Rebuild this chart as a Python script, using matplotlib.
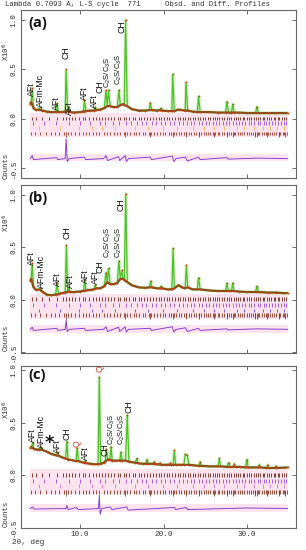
import matplotlib
matplotlib.use("Agg")  # headless
import matplotlib.pyplot as plt
import numpy as np
from matplotlib.ticker import FormatStrFormatter

# ---- data --------------------------------------------------------------
# background / peak-foot points shared by panels (a) and (b)
bg_x_ab = [4.0, 4.12, 4.4, 4.7, 5.05, 5.45, 6.0, 6.5, 7.05, 7.4,
           7.8, 8.2, 8.5, 8.8, 9.3, 10.0, 10.4, 10.7, 11.2, 11.65,
           11.95, 12.4, 12.9, 13.25, 13.6, 14.0, 14.45, 14.82, 15.15, 15.3,
           15.65, 16.2, 17.0, 17.8, 18.3, 18.6, 19.2, 19.55, 19.85, 20.5,
           21.0, 21.3, 21.8, 22.2, 22.6, 22.9, 23.5, 24.05, 24.4, 25.5,
           26.5, 27.45, 27.8, 28.15, 28.45, 29.0, 30.0, 31.05, 31.4, 32.5,
           33.5, 34.3, 34.9]
a_bg_y = [0.15, 0.17, 0.11, 0.09, 0.095, 0.085, 0.075, 0.07, 0.07, 0.07,
          0.07, 0.075, 0.08, 0.07, 0.065, 0.07, 0.075, 0.08, 0.085, 0.085,
          0.09, 0.095, 0.11, 0.13, 0.13, 0.12, 0.12, 0.14, 0.15, 0.14,
          0.13, 0.1, 0.085, 0.085, 0.09, 0.09, 0.085, 0.09, 0.085, 0.08,
          0.08, 0.08, 0.095, 0.09, 0.085, 0.085, 0.075, 0.07, 0.07, 0.07,
          0.065, 0.065, 0.065, 0.065, 0.065, 0.065, 0.06, 0.06, 0.06, 0.06,
          0.06, 0.06, 0.06]
a_pk_x = [4.25, 5.25, 7.2, 8.32, 8.65, 10.5, 11.8, 13.1, 13.4, 14.65,
          15.45, 18.4, 19.7, 21.1, 22.7, 24.2, 27.6, 28.3, 31.2]
a_pk_y = [0.31, 0.12, 0.16, 0.5, 0.12, 0.19, 0.12, 0.29, 0.29, 0.29,
          1.0, 0.165, 0.11, 0.45, 0.37, 0.23, 0.175, 0.15, 0.125]

b_bg_y = [0.18, 0.2, 0.12, 0.095, 0.1, 0.08, 0.05, 0.045, 0.05, 0.055,
          0.065, 0.07, 0.08, 0.075, 0.075, 0.08, 0.085, 0.09, 0.095, 0.1,
          0.11, 0.11, 0.13, 0.17, 0.15, 0.15, 0.16, 0.2, 0.2, 0.19,
          0.17, 0.14, 0.12, 0.115, 0.12, 0.12, 0.11, 0.11, 0.11, 0.1,
          0.1, 0.11, 0.14, 0.12, 0.11, 0.12, 0.1, 0.1, 0.1, 0.09,
          0.085, 0.085, 0.085, 0.085, 0.085, 0.08, 0.075, 0.075, 0.075, 0.07,
          0.07, 0.065, 0.065]
b_pk_x = [4.25, 5.25, 7.22, 8.35, 8.65, 10.55, 11.8, 13.1, 13.4, 14.65,
          15.0, 15.47, 18.45, 19.7, 21.15, 22.75, 24.2, 27.6, 28.3, 31.2]
b_pk_y = [0.35, 0.11, 0.16, 0.52, 0.12, 0.19, 0.14, 0.26, 0.3, 0.37,
          0.28, 1.01, 0.18, 0.13, 0.49, 0.33, 0.21, 0.16, 0.16, 0.13]

c_bg_x = [4.0, 4.15, 4.45, 4.8, 5.1, 5.5, 6.0, 6.5, 7.1, 7.45,
          8.0, 8.25, 8.55, 9.0, 9.5, 9.8, 10.2, 10.45, 10.75, 11.2,
          11.7, 12.15, 12.45, 12.8, 13.0, 13.3, 13.55, 13.85, 14.3, 14.75,
          15.05, 15.45, 15.85, 16.6, 16.95, 17.5, 17.85, 18.15, 18.7, 19.05,
          19.45, 19.75, 20.3, 20.65, 20.95, 21.15, 21.45, 22.0, 22.45, 23.05,
          23.6, 24.25, 24.55, 25.5, 26.55, 26.85, 27.6, 27.95, 28.35, 28.65,
          29.2, 29.85, 30.15, 31.35, 31.65, 32.35, 32.65, 33.35, 33.65, 34.9]
c_bg_y = [0.26, 0.27, 0.25, 0.245, 0.245, 0.24, 0.225, 0.205, 0.19, 0.185,
          0.165, 0.16, 0.15, 0.145, 0.135, 0.135, 0.125, 0.12, 0.115, 0.11,
          0.105, 0.105, 0.11, 0.12, 0.13, 0.15, 0.15, 0.14, 0.14, 0.14,
          0.14, 0.14, 0.13, 0.12, 0.115, 0.11, 0.11, 0.11, 0.11, 0.105,
          0.105, 0.1, 0.1, 0.1, 0.1, 0.1, 0.1, 0.1, 0.1, 0.1,
          0.095, 0.09, 0.09, 0.085, 0.085, 0.085, 0.08, 0.08, 0.08, 0.08,
          0.08, 0.075, 0.075, 0.075, 0.075, 0.07, 0.07, 0.07, 0.07, 0.075]
c_pk_x = [4.3, 5.3, 7.3, 8.4, 9.65, 10.6, 12.3, 13.15, 13.7, 14.9,
          15.65, 16.8, 18.0, 18.9, 19.6, 20.8, 21.3, 22.6, 22.85, 24.4,
          26.7, 27.8, 28.5, 30.0, 31.5, 32.5, 33.5]
c_pk_y = [0.31, 0.27, 0.22, 0.32, 0.26, 0.14, 0.93, 0.25, 0.27, 0.22,
          0.57, 0.16, 0.15, 0.13, 0.12, 0.12, 0.24, 0.2, 0.19, 0.13,
          0.16, 0.12, 0.11, 0.15, 0.1, 0.1, 0.09]

# difference curves
diff_x_ab = [4.0, 4.25, 4.4, 7.2, 7.3, 8.2, 8.32, 8.45, 8.7, 10.5,
             10.65, 12.8, 13.1, 13.3, 14.6, 14.75, 15.4, 15.55, 15.8, 18.4,
             18.55, 21.05, 21.25, 21.5, 22.65, 22.85, 24.2, 24.4, 27.6, 27.75,
             31.2, 34.9]
a_diff_y = [-0.40, -0.37, -0.41, -0.39, -0.41, -0.40, -0.20, -0.43, -0.40, -0.385,
            -0.41, -0.40, -0.37, -0.42, -0.38, -0.42, -0.37, -0.43, -0.40, -0.385,
            -0.41, -0.375, -0.43, -0.40, -0.385, -0.425, -0.385, -0.41, -0.39, -0.405,
            -0.395, -0.40]
b_diff_y = [-0.28, -0.26, -0.29, -0.27, -0.29, -0.28, -0.19, -0.30, -0.28, -0.27,
            -0.29, -0.28, -0.255, -0.30, -0.26, -0.30, -0.255, -0.305, -0.28, -0.27,
            -0.29, -0.255, -0.305, -0.28, -0.265, -0.30, -0.27, -0.29, -0.275, -0.285,
            -0.275, -0.28]
c_diff_x = [4.0, 4.3, 4.45, 8.3, 8.4, 8.55, 9.6, 9.75, 12.2, 12.3,
            12.4, 12.6, 13.6, 13.8, 15.6, 15.75, 21.3, 21.45, 22.7, 22.9,
            30.0, 34.9]
c_diff_y = [-0.315, -0.30, -0.32, -0.315, -0.285, -0.325, -0.305, -0.325, -0.315, -0.19,
            -0.37, -0.315, -0.30, -0.325, -0.30, -0.33, -0.305, -0.325, -0.305, -0.325,
            -0.31, -0.315]

# reflection markers, one list per phase row
refl_1 = [4.2, 4.7, 5.4, 6.3, 7.2, 7.9, 8.3, 8.6, 9.0, 9.4, 9.8, 10.3, 10.6,
          11.0, 11.5, 11.9, 12.3, 12.6, 13.0, 13.3, 13.7, 14.1, 14.5, 14.8,
          15.2, 15.5, 15.9, 16.3, 16.6, 17.0, 17.3, 17.7, 18.0, 18.4, 18.7,
          19.1, 19.4, 19.7, 20.1, 20.4, 20.7, 21.0, 21.4, 21.7, 22.0, 22.3,
          22.6, 22.9, 23.2, 23.5, 23.8, 24.1, 24.4, 24.7, 25.0, 25.3, 25.6,
          25.9, 26.2, 26.4, 26.7, 27.0, 27.3, 27.6, 27.8, 28.1, 28.4, 28.7,
          28.9, 29.2, 29.5, 29.7, 30.0, 30.3, 30.5, 30.8, 31.1, 31.3, 31.6,
          31.9, 32.1, 32.4, 32.6, 32.9, 33.2, 33.4, 33.7, 33.9, 34.2, 34.4, 34.7]
refl_2 = [4.3, 5.6, 7.1, 8.7, 10.0, 11.2, 12.4, 13.0, 13.9, 14.7, 15.5,
          16.1, 16.8, 17.4, 17.9, 18.6, 19.1, 19.7, 20.2, 20.8, 21.3, 21.8,
          22.3, 22.8, 23.3, 23.7, 24.2, 24.6, 25.1, 25.5, 25.9, 26.3, 26.7,
          27.1, 27.5, 27.9, 28.3, 28.7, 29.0, 29.4, 29.8, 30.2, 30.5, 30.9,
          31.3, 31.6, 32.0, 32.3, 32.7, 33.0, 33.4, 33.7, 34.1, 34.4, 34.7]
refl_3 = [5.0, 7.6, 9.9, 11.4, 12.6, 14.2, 16.6, 18.1, 19.9, 21.6, 23.5,
          24.9, 26.1, 27.3, 28.8, 29.7, 30.9, 31.9, 32.8, 33.6, 34.5]
refl_4 = [4.1, 4.6, 5.2, 5.9, 6.5, 7.0, 7.5, 8.1, 8.5, 8.9, 9.4, 9.9, 10.3,
          10.7, 11.1, 11.5, 11.9, 12.3, 12.8, 13.2, 13.6, 14.0, 14.4, 14.8,
          15.2, 15.6, 16.0, 16.4, 16.7, 17.1, 17.5, 17.8, 18.2, 18.5, 18.9,
          19.2, 19.6, 19.9, 20.2, 20.6, 20.9, 21.2, 21.5, 21.8, 22.1, 22.4,
          22.7, 23.0, 23.3, 23.6, 23.9, 24.2, 24.5, 24.8, 25.1, 25.3, 25.6,
          25.9, 26.2, 26.5, 26.7, 27.0, 27.3, 27.6, 27.8, 28.1, 28.4, 28.6,
          28.9, 29.2, 29.4, 29.7, 30.0, 30.2, 30.5, 30.7, 31.0, 31.3, 31.5,
          31.8, 32.0, 32.3, 32.5, 32.8, 33.0, 33.3, 33.5, 33.8, 34.0, 34.3,
          34.5, 34.8]
refl_long = [8.3, 15.4, 18.4, 21.1, 22.7, 24.2, 26.0, 27.6, 28.3, 31.0,
             31.2, 32.4, 33.8, 34.6]

# phase labels
CS = r"C$_\mathregular{2}$S/C$_\mathregular{3}$S"
a_lbl = ["AFt", "AFm-Mc", "AFt", "CH", "AFt", "AFt", "AFt", "CH", CS, CS, "CH"]
a_lbl_x = [4.2, 5.2, 7.2, 8.3, 8.75, 10.5, 11.75, 12.35, 13.35, 14.65, 15.0]
a_lbl_y = [0.23, 0.12, 0.09, 0.61, 0.04, 0.19, 0.11, 0.26, 0.31, 0.34, 0.87]
b_lbl = ["AFt", "AFm-Mc", "AFt", "CH", "AFt", "AFt", "AFt", "CH", CS, CS, "CH"]
b_lbl_x = [4.2, 5.3, 7.3, 8.4, 8.8, 10.6, 11.8, 12.4, 13.25, 14.6, 14.9]
b_lbl_y = [0.33, 0.11, 0.13, 0.58, 0.11, 0.16, 0.15, 0.26, 0.40, 0.40, 0.85]
c_lbl = ["AFt", "AFm-Mc", "AFt", "CH", "Q", "AFt", "Q", "CH", CS, CS, "CH"]
c_lbl_x = [4.3, 5.3, 7.3, 8.4, 9.6, 10.6, 12.4, 13.0, 13.75, 14.95, 15.9]
c_lbl_y = [0.32, 0.26, 0.21, 0.34, 0.27, 0.15, 0.98, 0.18, 0.29, 0.29, 0.59]

# ---- layout / style -----------------------------------------------------
W, H = 306, 550
MONO = "Liberation Mono"
SANS = "Liberation Sans"
GREEN, BROWN, RED, DIFF = "#4fbf2a", "#86501a", "#d23c1c", "#8a3fd0"
PINK = "#fde3ee"

panels = [
    dict(tag="(a)", box=(21, 10, 296, 178), ylim=(-0.596, 1.101),
         bg=(bg_x_ab, a_bg_y), pk=(a_pk_x, a_pk_y), diff=(diff_x_ab, a_diff_y),
         lbl=(a_lbl, a_lbl_x, a_lbl_y), rows=[0.007, -0.04, -0.09, -0.145],
         rowc=["#5c1608", "#8b3fd6", "#f2a93b", "#8a2a12"], x10=52, counts=166),
    dict(tag="(b)", box=(21, 185, 296, 352.5), ylim=(-0.458, 1.093),
         bg=(bg_x_ab, b_bg_y), pk=(b_pk_x, b_pk_y), diff=(diff_x_ab, b_diff_y),
         lbl=(b_lbl, b_lbl_x, b_lbl_y), rows=[0.01, -0.045, -0.1, -0.145],
         rowc=["#5c1608", "#8b3fd6", "#4a40d8", "#7a2a10"], x10=223, counts=338),
    dict(tag="(c)", box=(21, 366, 296, 528), ylim=(-0.49, 1.038),
         bg=(c_bg_x, c_bg_y), pk=(c_pk_x, c_pk_y), diff=(c_diff_x, c_diff_y),
         lbl=(c_lbl, c_lbl_x, c_lbl_y), rows=[0.0, -0.055, -0.1, -0.16],
         rowc=["#5c1608", "#8b3fd6", "#c070d0", "#7a2a10"], x10=410, counts=514),
]

fig = plt.figure(figsize=(W / 100, H / 100), dpi=100)


def draw_panel(p, last):
    l, t, r, b = p["box"]
    ax = fig.add_axes([l / W, 1 - b / H, (r - l) / W, (b - t) / H])
    ax.set_xlim(2.9, 35.9)
    ax.set_ylim(*p["ylim"])

    bx, by = np.array(p["bg"][0]), np.array(p["bg"][1])
    kx, ky = np.array(p["pk"][0]), np.array(p["pk"][1])
    x = np.concatenate([bx, kx])
    y = np.concatenate([by, ky])
    o = np.argsort(x, kind="stable")
    x0, x1 = x.min(), x.max()

    # faint pink wash behind the marker rows and difference curve
    dx, dy = np.array(p["diff"][0]), np.array(p["diff"][1])
    ax.fill_between([x0, x1], -0.18, 0.06, color=PINK, lw=0, zorder=0)
    ax.fill_between([x0, x1], dy.mean() - 0.035, dy.mean() + 0.035,
                    color=PINK, lw=0, zorder=0)

    # profile: calc (green), background band (brown), obs (red +)
    ax.plot(x[o], y[o], color="#c4efb0", lw=2.4, alpha=0.7, zorder=2)
    ax.plot(x[o], y[o], color=GREEN, lw=0.9, zorder=3)
    ax.plot(bx, by, color=BROWN, lw=1.6, zorder=4, solid_capstyle="butt")
    ax.plot(x[o], y[o], ls="none", marker="+", ms=2, mew=0.5, color=RED, zorder=5)

    # reflection marker rows
    h = 0.018
    for yc, col, pos in zip(p["rows"], p["rowc"], [refl_1, refl_2, refl_3, refl_4]):
        ax.vlines(pos, yc - h, yc + h, color=col, lw=0.55, zorder=3)
    ax.vlines(refl_long, p["rows"][3] - h - 0.02, p["rows"][3] + h,
              color=p["rowc"][3], lw=0.55, zorder=3)

    # difference curve
    ax.plot(dx, dy, color=DIFF, lw=0.7, zorder=4)

    # phase labels
    for s, lx, ly in zip(*p["lbl"]):
        ax.text(lx, ly, s, rotation=90, ha="center", va="bottom",
                fontsize=5.5 if s == CS else 6.3, family=SANS,
                color=RED if s == "Q" else "#111", zorder=6, clip_on=False)
    if p["tag"] == "(c)":
        ax.text(6.25, 0.31, "*", ha="center", va="center", fontsize=13,
                fontweight="bold", color="#111", zorder=6)

    ax.text(0.025, 0.965 if p["tag"] != "(c)" else 0.985, p["tag"],
            transform=ax.transAxes, ha="left", va="top", fontsize=10.5,
            fontweight="bold", family="Open Sans", color="#111")

    # GSAS-style frame and inward ticks
    for sp in ax.spines.values():
        sp.set_color("#666")
        sp.set_linewidth(0.8)
    ax.set_xticks([10, 20, 30])
    ax.set_yticks([-0.5, 0.0, 0.5, 1.0])
    ax.yaxis.set_major_formatter(FormatStrFormatter("%.1f"))
    ax.xaxis.set_major_formatter(FormatStrFormatter("%.1f"))
    ax.tick_params(direction="in", length=3, width=0.6, color="#555",
                   top=True, right=True, labelsize=5.5, pad=2.5,
                   labelcolor="#333", labelbottom=last)
    for lab in ax.get_yticklabels():
        lab.set_rotation(90)
        lab.set_va("center")
        lab.set_family(MONO)
    for lab in ax.get_xticklabels():
        lab.set_family(MONO)

    fig.text(6 / W, 1 - p["x10"] / H, "X10$^{6}$", rotation=90, ha="center",
             va="center", fontsize=5.3, family=MONO, color="#333")
    fig.text(6 / W, 1 - p["counts"] / H, "Counts", rotation=90, ha="center",
             va="center", fontsize=5.3, family=MONO, color="#333")
    return ax


for i, p in enumerate(panels):
    draw_panel(p, i == len(panels) - 1)

fig.text(5 / W, 1 - 5 / H, "Lambda 0.7093 A, L-S cycle  771", ha="left",
         va="center", fontsize=5.2, family=MONO, color="#333")
fig.text(165 / W, 1 - 5 / H, "Obsd. and Diff. Profiles", ha="left",
         va="center", fontsize=5.2, family=MONO, color="#333")
fig.text(12 / W, 1 - 542 / H, "2θ, deg", ha="left", va="center",
         fontsize=5.5, family=MONO, color="#333")

fig.savefig("out.png", dpi=100, facecolor="white")
